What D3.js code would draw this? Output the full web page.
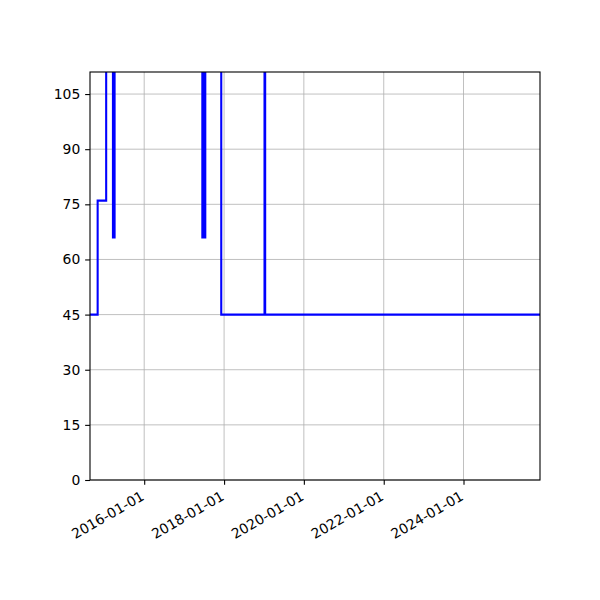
<!DOCTYPE html>
<html><head><meta charset="utf-8">
<script src="https://cdn.jsdelivr.net/npm/d3@7"></script>
<style>body{margin:0;background:#fff}svg{display:block}text{font-family:"DejaVu Sans";font-size:13.9px;fill:#000}</style>
</head><body><svg id="c" width="600" height="600"></svg>
<script>
const dates = ["2014-08-23","2014-11-01","2015-01-18",
  "2015-03-21","2015-03-24","2015-03-27","2015-03-30","2015-04-02","2015-04-05","2015-04-08",
  "2017-06-16","2017-06-19","2017-06-22","2017-06-25","2017-06-28","2017-07-01","2017-07-04","2017-07-07","2017-07-10","2017-07-13",
  "2017-12-06","2019-01-06","2019-01-12","2025-12-01"];
const values = [45,76,150,
  66,150,66,150,66,150,150,
  66,150,66,150,66,150,66,150,66,150,
  45,150,45,45];
const yTicks = [0,15,30,45,60,75,90,105];
const xTickLabels = ["2016-01-01","2018-01-01","2020-01-01","2022-01-01","2024-01-01"];
const yMax = 111;

const parse = d3.timeParse("%Y-%m-%d");
const data = dates.map((d,i)=>({t:parse(d), v:values[i]}));
const L=90,R=540,T=72,B=480;
const svg = d3.select("#c");
const x = d3.scaleTime().domain([data[0].t, data[data.length-1].t]).range([L,R]);
const y = d3.scaleLinear().domain([0,yMax]).range([B,T]);

const grid = svg.append("g").attr("stroke","#b0b0b0").attr("stroke-width",0.8);
xTickLabels.forEach(s=>{const px=x(parse(s)); grid.append("line").attr("x1",px).attr("x2",px).attr("y1",T).attr("y2",B);});
yTicks.forEach(v=>{const py=y(v); grid.append("line").attr("x1",L).attr("x2",R).attr("y1",py).attr("y2",py);});

svg.append("clipPath").attr("id","clip").append("rect").attr("x",L).attr("y",T).attr("width",R-L).attr("height",B-T);
const line = d3.line().x(d=>x(d.t)).y(d=>y(d.v)).curve(d3.curveStepAfter);
svg.append("path").datum(data).attr("d",line).attr("fill","none").attr("stroke","#0000ff").attr("stroke-width",2.08).attr("clip-path","url(#clip)");

// axes
const xa = svg.append("g").attr("transform",`translate(0,${B})`).call(d3.axisBottom(x).tickValues(xTickLabels.map(parse)).tickFormat(d3.timeFormat("%Y-%m-%d")).tickSize(4.86).tickSizeOuter(0));
xa.select(".domain").remove();
xa.selectAll("line").attr("stroke","#000").attr("stroke-width",1.1);
xa.selectAll("text").attr("font-size",13.9).attr("font-family","DejaVu Sans").attr("fill","#000")
  .attr("text-anchor","end").attr("dy",null).attr("y",null)
  .attr("transform","translate(0.5,19) rotate(-30)");
const ya = svg.append("g").attr("transform",`translate(${L},0)`).call(d3.axisLeft(y).tickValues(yTicks).tickSize(4.86).tickPadding(4.86).tickSizeOuter(0));
ya.select(".domain").remove();
ya.selectAll("line").attr("stroke","#000").attr("stroke-width",1.1);
ya.selectAll("text").attr("font-size",13.9).attr("font-family","DejaVu Sans").attr("fill","#000");

svg.append("rect").attr("x",L).attr("y",T).attr("width",R-L).attr("height",B-T).attr("fill","none").attr("stroke","#000").attr("stroke-width",1.1);
</script></body></html>
